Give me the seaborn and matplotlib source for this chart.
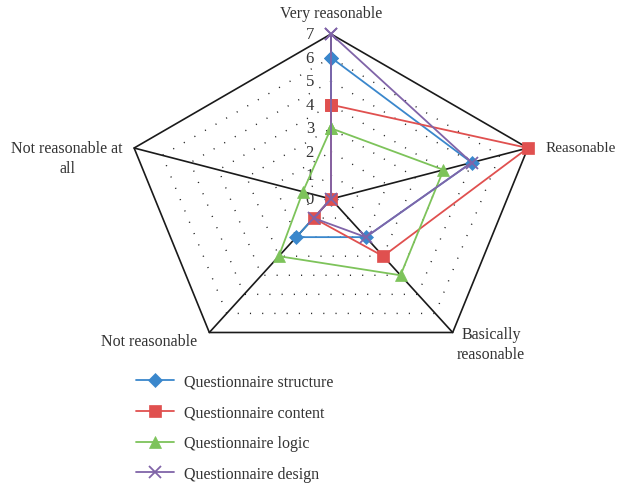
import numpy as np
import pandas as pd
import matplotlib
matplotlib.use("Agg")
import matplotlib.pyplot as plt
import seaborn as sns

categories = ["Very reasonable", "Reasonable", "Basically\nreasonable",
              "Not reasonable", "Not reasonable at\nall"]
series_names = ["Questionnaire structure", "Questionnaire content",
                "Questionnaire logic", "Questionnaire design"]
structure = [6, 5, 2, 2, 0]
content = [4, 7, 3, 1, 0]
logic = [3, 4, 4, 3, 1]
design = [7, 5, 2, 1, 0]
tick_labels = ["0", "1", "2", "3", "4", "5", "6", "7"]
rmax = 7

sns.set_theme(style="white")
plt.rcParams["font.family"] = ["Liberation Serif", "DejaVu Serif"]

colors = ["#3A87CC", "#E0504F", "#7DC35A", "#8064A8"]
markers = ["D", "s", "^", "x"]
msizes = [7, 9, 8.5, 9]

n = len(categories)
angles = np.pi / 2 - np.arange(n) * 2 * np.pi / n

rows = []
for name, vals in zip(series_names, [structure, content, logic, design]):
    for i in list(range(n)) + [0]:
        rows.append({"series": name, "order": len(rows),
                     "x": vals[i] * np.cos(angles[i]),
                     "y": vals[i] * np.sin(angles[i])})
df = pd.DataFrame(rows)

W, H = 619, 485
fig = plt.figure(figsize=(W / 100, H / 100), dpi=100)
ax = fig.add_axes([0, 0, 1, 1])
cx, cy = 331, 200
sx, sy = 207 / rmax, 165 / rmax
ax.set_xlim(-cx / sx, (W - cx) / sx)
ax.set_ylim((cy - H) / sy, cy / sy)
ax.axis("off")

# grid
ca = np.append(np.cos(angles), np.cos(angles[0]))
sa = np.append(np.sin(angles), np.sin(angles[0]))
for lvl in range(1, rmax):
    ax.plot(lvl * ca, lvl * sa, color="#222222", lw=1.0,
            linestyle=(0, (0.8, 8)), zorder=1)
ax.plot(rmax * ca, rmax * sa, color="#1a1a1a", lw=1.2, zorder=2)
for a in angles:
    ax.plot([0, rmax * np.cos(a)], [0, rmax * np.sin(a)], color="#1a1a1a",
            lw=1.2, zorder=2)

fs = 11.5
# ticks
for lvl, t in enumerate(tick_labels):
    ax.text(-17 / sx, lvl, t, ha="right", va="center", fontsize=12,
            color="#333333")

# series
for k, name in enumerate(series_names):
    sub = df[df["series"] == name]
    sns.lineplot(data=sub, x="x", y="y", sort=False, estimator=None,
                 color=colors[k], lw=1.3, marker=markers[k],
                 markersize=msizes[k], markeredgecolor=colors[k],
                 markeredgewidth=1.3 if markers[k] == "x" else 0.5,
                 label=name, ax=ax, zorder=3 + k)

# category labels
ax.text(0, (cy - 14) / sy, categories[0], ha="center", va="center",
        fontsize=fs, color="#333333")
ax.text((546 - cx) / sx, (cy - 148) / sy, categories[1], ha="left",
        va="center", fontsize=11, color="#333333")
ax.text((491 - cx) / sx, (cy - 345) / sy, categories[2], ha="center",
        va="center", fontsize=fs, color="#333333", linespacing=1.3)
ax.text((197 - cx) / sx, (cy - 342) / sy, categories[3], ha="right",
        va="center", fontsize=fs, color="#333333")
ax.text((67 - cx) / sx, (cy - 159) / sy, categories[4], ha="center",
        va="center", fontsize=fs, color="#333333", linespacing=1.3)

leg = ax.legend(loc="upper left", bbox_to_anchor=(128 / W, 1 - 367 / H),
                frameon=False, fontsize=fs, handlelength=2.4,
                handletextpad=0.6, labelspacing=0.92, borderpad=0)
for t in leg.get_texts():
    t.set_color("#333333")

fig.savefig("out.png", dpi=100)
